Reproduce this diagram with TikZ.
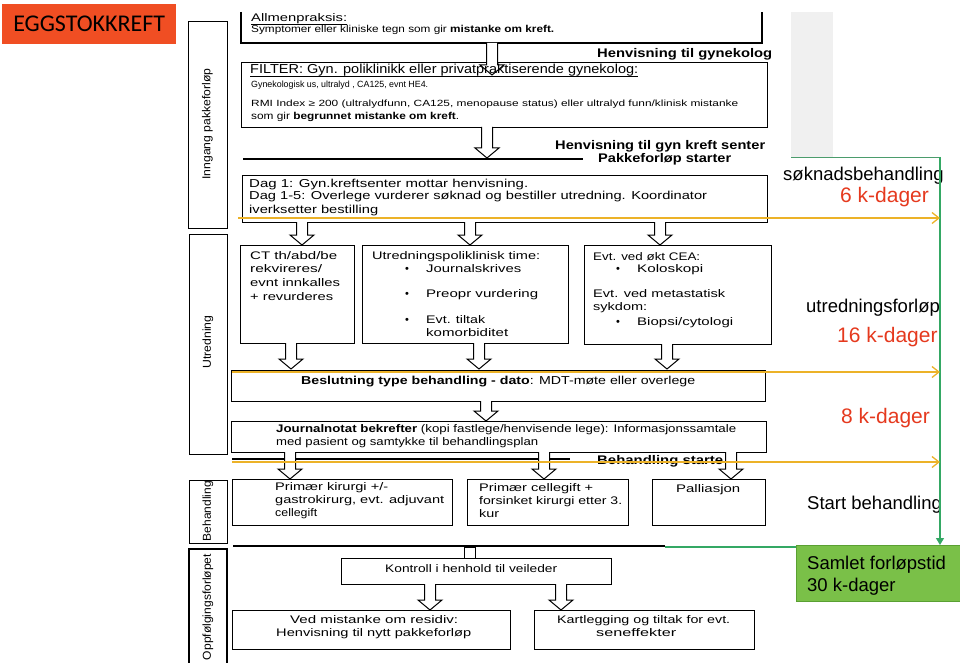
\documentclass[tikz,border=0pt]{standalone}
\usepackage{fontspec}
\setmainfont{Liberation Sans}
\newfontfamily\calibri{Carlito}
\usepackage{graphicx}
\usetikzlibrary{arrows.meta}
\definecolor{titlered}{RGB}{240,78,35}
\definecolor{kred}{RGB}{229,57,30}
\definecolor{kyellow}{RGB}{236,178,40}
\definecolor{kgreen}{RGB}{52,168,100}
\definecolor{boxgreen}{RGB}{122,192,72}
\definecolor{boxgreenedge}{RGB}{90,160,50}
\definecolor{bandgrey}{RGB}{240,240,240}
\newcommand\fw[2]{\resizebox{#1pt}{\height}{#2}}
\newcommand\barrow[3]{\draw[barrowst] (#1-5.5,#2) -- (#1-5.5,#3-10) -- (#1-12,#3-10) -- (#1,#3) -- (#1+12,#3-10) -- (#1+5.5,#3-10) -- (#1+5.5,#2);}
\begin{document}
\begin{tikzpicture}[x=1pt,y=-1pt,
  box/.style={draw=black, line width=1.3pt, inner sep=0, anchor=north west},
  lab/.style={draw=black, line width=1.1pt, inner sep=0, anchor=north west},
  boxline/.style={draw=black, line width=1.3pt},
  txt/.style={anchor=base west, inner sep=0, font=\fontsize{11}{13}\selectfont},
  sm/.style={font=\fontsize{10}{12}\selectfont},
  xs/.style={font=\fontsize{9}{11}\selectfont},
  md/.style={font=\fontsize{11.5}{13}\selectfont},
  hd/.style={font=\fontsize{12.5}{14}\selectfont\bfseries},
  big/.style={font=\fontsize{18.5}{22}\selectfont},
  bigred/.style={font=\fontsize{21}{24}\selectfont, text=kred},
  vlab/.style={rotate=90, inner sep=0, font=\fontsize{11.5}{13}\selectfont},
  barrowst/.style={draw=black, line width=1pt, fill=white},
  sepline/.style={draw=black, line width=2pt},
  uline/.style={draw=black, line width=0.9pt},
  yline/.style={draw=kyellow, line width=1.3pt, -{Straight Barb[length=7pt,width=11pt]}},
  gline/.style={draw=kgreen, line width=1.3pt}
]
\useasboundingbox (0,0) rectangle (960,663);
\fill[bandgrey] (791,12) rectangle (833,157);

% title
\node[fill=titlered, minimum width=174pt, minimum height=40pt, anchor=north west, inner sep=0] (title) at (2,4) {\calibri\fontsize{24}{28}\selectfont EGGSTOKKREFT};

% left phase labels
\node[lab, minimum width=39pt, minimum height=207pt] (inngang) at (188,21) {};
\node[vlab] (inngangT) at (207.5,124) {\fw{111}{Inngang pakkeforløp}};
\node[lab, minimum width=38pt, minimum height=220pt] (utredn) at (189,234) {};
\node[vlab] (utrednT) at (208,342) {\fw{53}{Utredning}};
\node[lab, minimum width=38pt, minimum height=63pt] (behand) at (189,480) {};
\node[vlab] (behandT) at (208,511) {\fw{60}{Behandling}};
\draw[line width=1.1pt] (189,663) -- (189,549) coordinate (oppfTL) -- (227,549) coordinate (oppfTR) -- (227,663);
\node[vlab] (oppfT) at (208,607) {\fw{106}{Oppfølgingsforløpet}};

% boxes
\draw[boxline] (241,12) coordinate (allmenTL) -- (241,43) -- (762,43) -- (762,12) coordinate (allmenTR);
\node[box, minimum width=526pt, minimum height=65pt] (filter) at (241,62) {};
\node[box, minimum width=525pt, minimum height=47pt] (dag) at (242,175) {};
\node[box, minimum width=114pt, minimum height=98pt] (ct) at (240,245) {};
\node[box, minimum width=206pt, minimum height=98pt] (utr) at (362,245) {};
\node[box, minimum width=187pt, minimum height=99pt] (evt) at (584,245) {};
\node[box, minimum width=534pt, minimum height=31pt] (beslut) at (231,370) {};
\node[box, minimum width=535pt, minimum height=31pt] (journal) at (231,421) {};
\node[box, minimum width=220pt, minimum height=46pt] (kir) at (232,479) {};
\node[box, minimum width=161pt, minimum height=46pt] (celle) at (467,479) {};
\node[box, minimum width=113pt, minimum height=46pt] (pall) at (652,479) {};
\node[box, minimum width=270pt, minimum height=26pt] (kontroll) at (341,558) {};
\node[box, minimum width=278pt, minimum height=39pt] (ved) at (232,610) {};
\node[box, minimum width=220pt, minimum height=39pt] (kart) at (534,610) {};

% separator lines
\draw[sepline] (243,159) -- (583,159);
\draw[sepline] (232,459) -- (570,459);
\draw[sepline] (233,546) -- (665,546);

% block arrows
\barrow{492}{43}{75}
\barrow{487}{127}{158}
\barrow{302}{222}{245}
\barrow{470}{222}{245}
\barrow{660}{222}{245}
\barrow{291}{343}{369}
\barrow{479}{343}{369}
\barrow{667}{344}{369}
\barrow{486}{401}{421}
\barrow{290}{452}{479}
\barrow{544}{452}{479}
\barrow{731}{452}{479}
\draw[barrowst] (464,547) rectangle (475,558);
\barrow{430}{584}{610}
\barrow{561}{584}{610}

% texts: Allmenpraksis
\node[txt] (t1) at (251,22) {\fw{96}{Allmenpraksis:}};
\draw[uline] ([yshift=-2pt]t1.base west) -- ([yshift=-2pt]t1.base east);
\node[txt, sm] (t2) at (251,33) {\fw{303}{Symptomer eller kliniske tegn som gir \textbf{mistanke om kreft.}}};
% headings
\node[txt, hd] (h1) at (597,58) {\fw{175}{Henvisning til gynekolog}};
\node[txt, hd] (h2) at (555,150) {\fw{210}{Henvisning til gyn kreft senter}};
\node[txt, hd] (h3) at (598,163) {\fw{133}{Pakkeforløp starter}};
\node[txt, hd] (h4) at (597,464) {\fw{126}{Behandling starte}};
% FILTER
\node[txt, font=\fontsize{13}{15}\selectfont] (t3) at (250,74) {\fw{388}{FILTER: Gyn. poliklinikk eller privatpraktiserende gynekolog:}};
\draw[uline] ([yshift=-2.2pt]t3.base west) -- ([yshift=-2.2pt]t3.base east);
\node[txt, xs] (t4) at (251,88) {\fw{177}{Gynekologisk us, ultralyd , CA125, evnt HE4.}};
\node[txt, xs] (t5) at (251,107) {\fw{487}{RMI Index ≥ 200 (ultralydfunn, CA125, menopause status) eller ultralyd funn/klinisk mistanke}};
\node[txt, sm] (t6) at (251,120) {\fw{208}{som gir \textbf{begrunnet mistanke om kreft}.}};
% Dag
\node[txt, md] (t10) at (249,187) {\fw{279}{Dag 1: Gyn.kreftsenter mottar henvisning.}};
\node[txt, md] (t11) at (249,200) {\fw{458}{Dag 1-5: Overlege vurderer søknad og bestiller utredning. Koordinator}};
\node[txt, md] (t12) at (249,213) {\fw{129}{iverksetter bestilling}};
% CT
\node[txt] (t13) at (250,259) {\fw{87}{CT th/abd/be}};
\node[txt] (t14) at (250,272) {\fw{72}{rekvireres/}};
\node[txt] (t15) at (250,286) {\fw{90}{evnt innkalles}};
\node[txt] (t16) at (250,300) {\fw{83}{+ revurderes}};
% Utredningspoliklinisk
\node[txt] (t17) at (372,259) {\fw{168}{Utredningspoliklinisk time:}};
\node[txt] (b1) at (405,272) {•};
\node[txt] (t18) at (426,272) {\fw{95}{Journalskrives}};
\node[txt] (b2) at (405,297) {•};
\node[txt] (t19) at (426,297) {\fw{112}{Preopr vurdering}};
\node[txt] (b3) at (405,323) {•};
\node[txt] (t20) at (426,323) {\fw{59}{Evt. tiltak}};
\node[txt] (t21) at (426,336) {\fw{82}{komorbiditet}};
% Evt
\node[txt] (t22) at (593,260) {\fw{107}{Evt. ved økt CEA:}};
\node[txt] (b4) at (616,272) {•};
\node[txt] (t23) at (637,272) {\fw{66}{Koloskopi}};
\node[txt] (t24) at (593,297) {\fw{132}{Evt. ved metastatisk}};
\node[txt] (t25) at (593,310) {\fw{54}{sykdom:}};
\node[txt] (b5) at (616,325) {•};
\node[txt] (t26) at (637,325) {\fw{96}{Biopsi/cytologi}};
% Beslutning, Journalnotat
\node[txt, md] (t27) at (301,384) {\fw{394}{\textbf{Beslutning type behandling - dato}: MDT-møte eller overlege}};
\node[txt] (t28) at (276,432) {\fw{460}{\textbf{Journalnotat bekrefter} (kopi fastlege/henvisende lege): Informasjonssamtale}};
\node[txt] (t29) at (276,445) {\fw{262}{med pasient og samtykke til behandlingsplan}};
% Behandling
\node[txt] (t31) at (275,490) {\fw{113}{Primær kirurgi +/-}};
\node[txt] (t32) at (275,503) {\fw{169}{gastrokirurg, evt. adjuvant}};
\node[txt] (t33) at (275,516) {\fw{42}{cellegift}};
\node[txt] (t34) at (479,491) {\fw{114}{Primær cellegift +}};
\node[txt] (t35) at (479,504) {\fw{143}{forsinket kirurgi etter 3.}};
\node[txt] (t36) at (479,517) {\fw{20}{kur}};
\node[txt] (t37) at (676,492) {\fw{64}{Palliasjon}};
% Oppfolging
\node[txt] (t38) at (385,572) {\fw{172}{Kontroll i henhold til veileder}};
\node[txt] (t39) at (290,623) {\fw{168}{Ved mistanke om residiv:}};
\node[txt] (t40) at (276,636) {\fw{195}{Henvisning til nytt pakkeforløp}};
\node[txt] (t41) at (557,623) {\fw{173}{Kartlegging og tiltak for evt.}};
\node[txt] (t42) at (596,636) {\fw{80}{seneffekter}};

% right side timing labels
\node[txt, big] (r1) at (783,181) {søknadsbehandling};
\node[txt, bigred] (r2) at (840,202) {6 k-dager};
\node[txt, big] (r3) at (806,312) {utredningsforløp};
\node[txt, bigred] (r4) at (837,342) {16 k-dager};
\node[txt, bigred] (r5) at (841,423) {8 k-dager};
\node[txt, big] (r6) at (807,509) {Start behandling};

% total box
\node[fill=boxgreen, draw=boxgreenedge, line width=0.8pt, minimum width=164pt, minimum height=56pt, anchor=north west, inner sep=0] (samlet) at (796,545) {};
\node[txt, big] (s1) at (807,569) {Samlet forløpstid};
\node[txt, big] (s2) at (807,591) {30 k-dager};

% timeline lines
\coordinate (gtop) at (940,157);
\draw[kgreen!70!gray, line width=0.8pt] (791,157) -- (gtop);
\draw[gline, -{Triangle[length=7pt,width=8pt]}] (gtop) -- (samlet.north west -| gtop);
\draw[gline] (665,547) -- (samlet.west |- 0,547);
\coordinate (y1s) at (238,218);
\coordinate (y2s) at (232,372);
\coordinate (y3s) at (232,462);
\draw[yline] (y1s) -- (y1s -| gtop);
\draw[yline] (y2s) -- (y2s -| gtop);
\draw[yline] (y3s) -- (y3s -| gtop);
\end{tikzpicture}
\end{document}
